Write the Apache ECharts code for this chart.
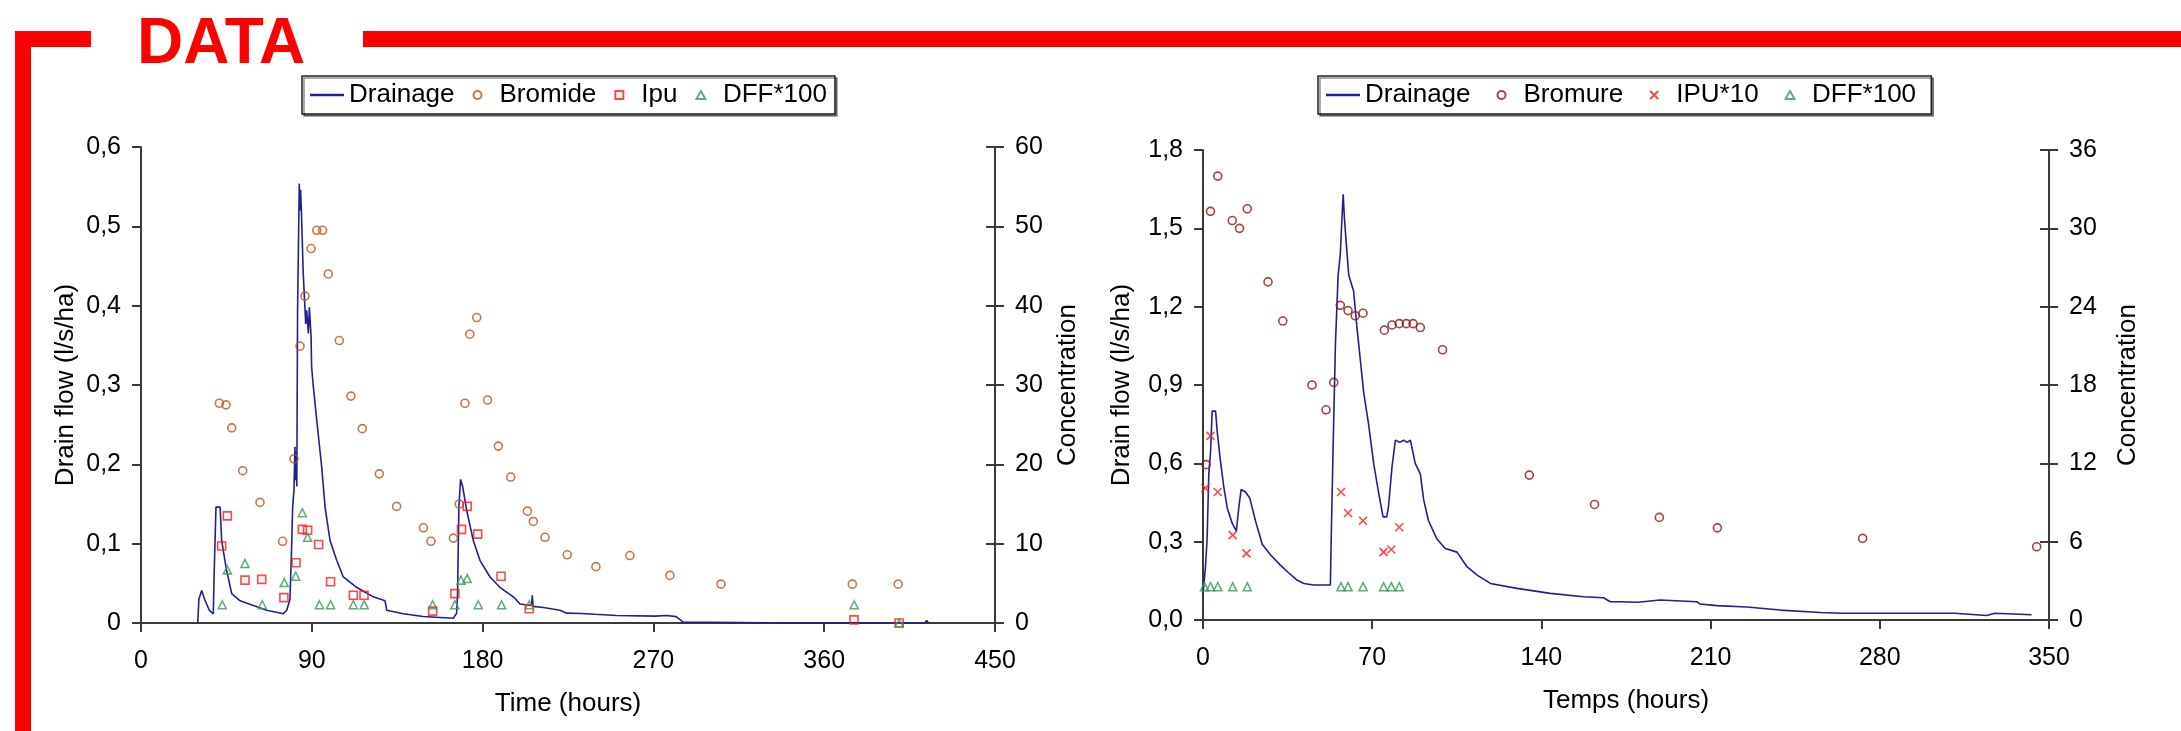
<!DOCTYPE html>
<html><head><meta charset="utf-8">
<script src="https://cdn.jsdelivr.net/npm/echarts@6/dist/echarts.min.js"></script>
<style>html,body{margin:0;padding:0;background:#fff}#c{width:2181px;height:731px}</style>
</head><body><div id="c"></div>
<script>
// ---------- LEFT CHART DATA ----------
const leftXTicks = [0, 90, 180, 270, 360, 450];
const leftDrainHours = [29.9,30.5,32,33.5,36,38.1,38.5,39.5,41.7,42.5,44.8,47.8,52.2,59.2,66.2,75,76.8,78.5,79.3,79.9,80.6,81.1,81.5,81.8,82.1,82.5,83.4,83.8,84.1,84.5,85.5,86.8,87.3,88.2,88.7,89.6,89.9,90.8,92.6,95.2,97,99.6,103.1,106.6,113.6,122.4,128.6,129.5,138.2,148.7,164.5,166.3,166.8,167.5,168.4,169.5,171.6,175.1,178.6,183.9,189.1,196.2,199.7,205.8,206.2,206.6,212,220.8,224.3,232.2,239.2,250.6,270.8,277,282,285.7,300,343.5,413,414,415];
const leftDrainFlow = [0,0.03,0.041,0.03,0.016,0.0116,0.058,0.146,0.146,0.104,0.07,0.037,0.028,0.022,0.016,0.0116,0.016,0.03,0.09,0.146,0.167,0.222,0.18,0.215,0.172,0.394,0.554,0.52,0.546,0.52,0.44,0.377,0.394,0.365,0.398,0.362,0.323,0.298,0.256,0.197,0.146,0.104,0.079,0.058,0.045,0.033,0.028,0.016,0.0116,0.0082,0.006,0.012,0.037,0.146,0.181,0.172,0.142,0.104,0.079,0.058,0.045,0.033,0.024,0.022,0.035,0.021,0.0195,0.016,0.0124,0.012,0.011,0.0095,0.0087,0.0095,0.008,0.001,0.001,0,0,0.003,0];
const bromideHours = [41.3,44.8,47.8,53.6,62.7,74.6,80.6,83.8,86.4,89.6,92.6,95.7,98.7,104.5,110.6,116.6,125.6,134.7,148.8,152.8,164.6,167.7,170.7,173.3,176.9,182.6,188.3,194.8,203.6,206.7,212.9,224.6,239.7,257.6,278.7,305.6,374.8,399];
const bromideConc = [27.7,27.5,24.6,19.2,15.2,10.3,20.7,34.9,41.2,47.2,49.5,49.5,44.0,35.6,28.6,24.5,18.8,14.7,12.0,10.3,10.7,15.0,27.7,36.4,38.5,28.1,22.3,18.4,14.1,12.8,10.8,8.6,7.1,8.5,6.0,4.9,4.9,4.9];
const ipuHours = [42.5,45.5,54.8,63.6,75.3,81.7,85,87.8,93.6,99.9,111.9,117.5,153.7,165.4,168.9,171.9,177.4,189.7,204.6,375.7,399.5];
const ipuConc = [9.7,13.5,5.4,5.5,3.2,7.6,11.8,11.7,9.9,5.2,3.5,3.5,1.5,3.7,11.8,14.7,11.2,5.9,1.8,0.4,0];
const dffHoursL = [42.8,45.5,54.8,63.9,75.5,81.5,85,87.8,94,99.9,111.9,117.6,153.7,165.4,168.6,171.9,177.7,190,204.6,375.8,399.5];
const dffConcL = [2.3,6.7,7.5,2.3,5.1,5.9,13.9,10.8,2.3,2.3,2.3,2.3,2.3,2.3,5.4,5.6,2.3,2.3,2.3,2.3,0];

// ---------- RIGHT CHART DATA ----------
const rightXTicks = [0, 70, 140, 210, 280, 350];
const rightDrainHours = [0,0.5,1,1.7,2.4,3.1,3.8,5.2,5.9,7.2,8.6,10,12.1,13.8,14.8,15.8,17.6,19.4,21.7,24.5,27.9,32,35.5,38.9,41.7,45.8,52.7,53,53.8,54.8,55.9,56.8,57.5,58,58.5,59.2,60.3,62.3,63.7,66.5,68.5,70.6,72.7,74.5,76,76.7,78.2,79.6,81.5,83,84.5,85.8,87.8,89.9,91.3,93.3,96.8,100.2,105.1,109.2,113.4,118.9,129.9,143.7,157.4,165.7,168.5,172.6,180,189.1,204.3,205.6,212.6,225,238.7,255.3,264.2,295.2,295.9,311,324.2,327.6,342.8];
const rightDrainFlow = [0.1,0.1,0.2,0.31,0.56,0.64,0.8,0.8,0.72,0.61,0.51,0.43,0.37,0.34,0.43,0.5,0.49,0.466,0.38,0.29,0.25,0.21,0.18,0.153,0.14,0.134,0.134,0.29,0.65,1.06,1.32,1.4,1.54,1.63,1.54,1.45,1.32,1.26,1.12,0.87,0.75,0.6,0.485,0.395,0.395,0.43,0.587,0.689,0.68,0.689,0.68,0.689,0.6,0.56,0.46,0.38,0.31,0.274,0.26,0.204,0.172,0.14,0.121,0.102,0.089,0.085,0.07,0.07,0.068,0.0766,0.07,0.061,0.055,0.05,0.038,0.029,0.026,0.026,0.032,0.026,0.017,0.026,0.02];
const bromureHours = [1.3,3.1,6.1,12.1,15.1,18.3,26.9,33,45.1,50.9,54.1,56.8,60,63,66.2,75,78.2,81.2,84.1,86.9,89.9,99.1,135,162,188.8,212.8,272.9,344.9];
const bromureConc = [11.9,31.3,34.0,30.6,30.0,31.5,25.9,22.9,18.0,16.1,18.2,24.1,23.7,23.3,23.5,22.2,22.6,22.7,22.7,22.7,22.4,20.7,11.1,8.85,7.86,7.06,6.25,5.61];
const ipu10Hours = [1,3.1,6.1,12.3,18,57.1,60,66.2,74.7,77.9,81.2];
const ipu10Conc = [10.1,14.1,9.8,6.5,5.1,9.8,8.2,7.6,5.2,5.4,7.1];
const dffHoursR = [0.6,3.1,6.1,12.3,18.3,57.1,60,66.2,74.7,77.9,81.2];
const dffConcR = [2.55,2.55,2.55,2.55,2.55,2.55,2.55,2.55,2.55,2.55,2.55];

// ---------- BUILD ----------
const zip = (xs, ys) => xs.map((x, i) => [x, ys[i]]);
const FONT = "'Liberation Sans', Arial, sans-serif";
const AX = '#3a3a3a';
const NAVY = '#20208f';
const dec = v => v.toFixed(1).replace('.', ',');

function xAxis(grid, max, interval, name) {
  return {
    type: 'value', gridIndex: grid, min: 0, max: max, interval: interval,
    name: name, nameLocation: 'middle', nameGap: 68,
    nameTextStyle: { fontFamily: FONT, fontSize: 26, color: '#000' },
    axisLine: { show: true, onZero: false, lineStyle: { color: AX, width: 2 } },
    axisTick: { show: true, length: 9, lineStyle: { color: AX, width: 2 } },
    axisLabel: { margin: 26, fontFamily: FONT, fontSize: 25, color: '#000' },
    splitLine: { show: false }
  };
}
function yLeft(grid, max, interval, name, fmt, gap) {
  return {
    type: 'value', gridIndex: grid, position: 'left', min: 0, max: max, interval: interval,
    name: name, nameLocation: 'middle', nameGap: gap, nameRotate: 90,
    nameTextStyle: { fontFamily: FONT, fontSize: 26, color: '#000' },
    axisLine: { show: true, lineStyle: { color: AX, width: 2 } },
    axisTick: { show: true, length: 9, lineStyle: { color: AX, width: 2 } },
    axisLabel: { margin: 20, fontFamily: FONT, fontSize: 25, color: '#000', formatter: fmt },
    splitLine: { show: false }
  };
}
function yRight(grid, max, interval, name, gap) {
  return {
    type: 'value', gridIndex: grid, position: 'right', min: 0, max: max, interval: interval,
    name: name, nameLocation: 'middle', nameGap: gap, nameRotate: 90,
    nameTextStyle: { fontFamily: FONT, fontSize: 26, color: '#000' },
    axisLine: { show: true, lineStyle: { color: AX, width: 2 } },
    axisTick: { show: true, length: 9, lineStyle: { color: AX, width: 2 } },
    axisLabel: { margin: 20, fontFamily: FONT, fontSize: 25, color: '#000' },
    splitLine: { show: false }
  };
}
function yRightInner(grid, max, interval) {
  return {
    type: 'value', gridIndex: grid, position: 'right', min: 0, max: max, interval: interval,
    axisLine: { show: false },
    axisTick: { show: true, inside: true, length: 9, lineStyle: { color: AX, width: 2 } },
    axisLabel: { show: false }, splitLine: { show: false }
  };
}
function hollow(name, symbol, size, color, xi, yi, data) {
  return {
    name: name, type: 'scatter', xAxisIndex: xi, yAxisIndex: yi,
    symbol: symbol, symbolSize: size, data: data,
    itemStyle: { color: 'rgba(255,255,255,0)', borderColor: color, borderWidth: 1.6 },
    z: 3
  };
}
function drain(xi, yi, data) {
  return {
    name: 'Drainage', type: 'line', xAxisIndex: xi, yAxisIndex: yi, data: data,
    showSymbol: false, symbol: 'none', lineStyle: { color: NAVY, width: 1.6 },
    itemStyle: { color: NAVY }, z: 2
  };
}
const XPATH = 'path://M0,0L10,10M10,0L0,10';
const LINE_ICON = 'path://M0,0L30,0L30,2L0,2Z';
const SQ_ICON = 'path://M0,0L10,0L10,10L0,10Z';
const TRI_ICON = 'path://M5,0L10,9L0,9Z';
const legendBase = {
  orient: 'horizontal', itemWidth: 34, itemHeight: 8, top: 76,
  symbolKeepAspect: true,
  padding: [6, 8], backgroundColor: '#fff', borderColor: '#222', borderWidth: 1.5,
  shadowColor: 'rgba(0,0,0,0.45)', shadowOffsetX: 2, shadowOffsetY: 2, shadowBlur: 0,
  textStyle: { fontFamily: FONT, fontSize: 26, color: '#000' },
  selectedMode: false
};

const option = {
  animation: false,
  backgroundColor: '#fff',
  grid: [
    { left: 141, right: 2181 - 995, top: 147, bottom: 731 - 623 },
    { left: 1203, right: 2181 - 2049, top: 150, bottom: 731 - 620 }
  ],
  xAxis: [
    xAxis(0, 450, 90, 'Time (hours)'),
    xAxis(1, 350, 70, 'Temps (hours)')
  ],
  yAxis: [
    yLeft(0, 0.6, 0.1, 'Drain flow (l/s/ha)', v => v === 0 ? '0' : dec(v), 62),
    yRight(0, 60, 10, 'Concentration', 60),
    yRightInner(0, 60, 10),
    yLeft(1, 1.8, 0.3, 'Drain flow (l/s/ha)', v => dec(v), 68),
    yRight(1, 36, 6, 'Concentration', 66),
    yRightInner(1, 36, 6)
  ],
  legend: [
    Object.assign({}, legendBase, { left: 302, itemGap: 18, data: [
      { name: 'Drainage', icon: LINE_ICON },
      { name: 'Bromide', icon: 'circle' },
      { name: 'Ipu', icon: SQ_ICON },
      { name: 'DFF*100', icon: TRI_ICON }
    ] }),
    Object.assign({}, legendBase, { left: 1318, itemGap: 26, data: [
      { name: 'Drainage', icon: LINE_ICON },
      { name: 'Bromure', icon: 'circle' },
      { name: 'IPU*10', icon: XPATH },
      { name: 'DFF*100 ', icon: TRI_ICON }
    ] })
  ],
  series: [
    drain(0, 0, zip(leftDrainHours, leftDrainFlow)),
    hollow('Bromide', 'circle', 8, '#b5541f', 0, 1, zip(bromideHours, bromideConc)),
    hollow('Ipu', 'rect', 8, '#ff1a1a', 0, 1, zip(ipuHours, ipuConc)),
    hollow('DFF*100', 'triangle', 8, '#3b9a5a', 0, 1, zip(dffHoursL, dffConcL)),
    drain(1, 3, zip(rightDrainHours, rightDrainFlow)),
    hollow('Bromure', 'circle', 8, '#8b1515', 1, 4, zip(bromureHours, bromureConc)),
    hollow('IPU*10', XPATH, 8, '#ff1a1a', 1, 4, zip(ipu10Hours, ipu10Conc)),
    hollow('DFF*100 ', 'triangle', 8, '#3b9a5a', 1, 4, zip(dffHoursR, dffConcR))
  ],
  graphic: [
    { type: 'rect', shape: { x: 15, y: 31, width: 76, height: 16 }, style: { fill: '#ff0000' } },
    { type: 'rect', shape: { x: 15, y: 31, width: 16, height: 700 }, style: { fill: '#ff0000' } },
    { type: 'rect', shape: { x: 363, y: 31, width: 1818, height: 16 }, style: { fill: '#ff0000' } },
    { type: 'text', x: 137, y: 45, style: { text: 'DATA', fill: '#ff0000', font: "bold 64px 'Liberation Sans', Arial, sans-serif", textVerticalAlign: 'middle', verticalAlign: 'middle' } }
  ]
};
const chart = echarts.init(document.getElementById('c'), null, { renderer: 'canvas' });
chart.setOption(option);
</script>
</body></html>
